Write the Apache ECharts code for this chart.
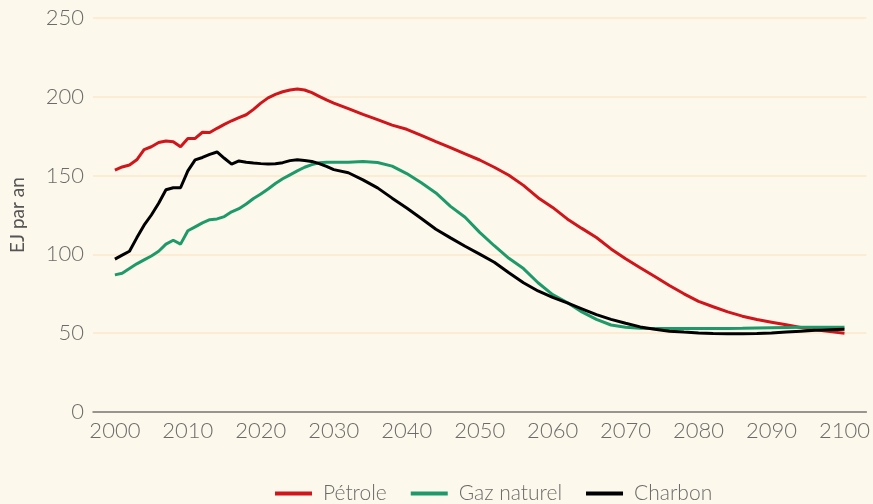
<!DOCTYPE html>
<html>
<head>
<meta charset="utf-8">
<script src="https://cdn.jsdelivr.net/npm/echarts@6/dist/echarts.min.js"></script>
<style>
html,body{margin:0;padding:0;background:#fdf8ec;}
#chart{width:873px;height:504px;}
</style>
</head>
<body>
<div id="chart"></div>
<script>
const years = [2000,2001,2002,2003,2004,2005,2006,2007,2008,2009,2010,2011,2012,2013,2014,2015,2016,2017,2018,2019,2020,2021,2022,2023,2024,2025,2026,2027,2028,2029,2030,
  2032,2034,2036,2038,2040,2042,2044,2046,2048,2050,2052,2054,2056,2058,2060,2062,2064,2066,2068,2070,2072,2074,2076,2078,2080,2082,2084,2086,2088,2090,2092,2094,2096,2098,2100];

const petrole = [153.5,155.5,156.7,160,166.5,168.3,171,172,171.5,168.3,173.6,173.6,177.5,177.3,180,182.5,184.8,186.8,188.6,192,196,199.3,201.5,203.2,204.3,205,204.3,202.6,200.3,198,196,
  192.5,188.8,185.5,182,179.4,175.5,171.6,167.8,163.8,159.9,155.3,150.2,143.8,136,129.8,122.5,116.5,110.7,103.5,97.3,91.5,86,80.3,75,70.2,66.8,63.5,60.8,58.7,57,55.3,53.6,52.2,51,49.9];

const gaz = [87,88,91,94,96.5,99,102,106.5,109,106.5,115,117.5,120,122,122.5,124,127,129,132,135.5,138.3,141.5,145,148,150.5,153,155.3,157,158.2,158.5,158.4,
  158.5,158.9,158.3,156,151.3,145.4,139,130.5,123.6,114,105.5,97.5,91,82,74.5,69.5,63.5,58.8,55.2,53.8,53.2,53,53,53,53,53,53,53.1,53.3,53.5,53.6,53.7,53.8,53.8,53.8];

const charbon = [97,99.5,102,110.5,118.5,125,132.5,141,142.3,142.3,153,160,161.5,163.5,165,161,157.3,159.3,158.5,158,157.6,157.3,157.5,158.2,159.5,160,159.6,159,157.6,155.8,153.8,
  151.8,147.3,142.2,135.7,129.4,122.8,116,110.5,105.2,100.2,95,88.3,82,76.8,72.7,69.2,65.5,61.8,58.8,56.3,54,52.5,51.3,50.7,50.2,49.8,49.6,49.6,49.8,50.2,50.8,51.3,51.8,52.2,52.5];

const xTicks = [2000,2010,2020,2030,2040,2050,2060,2070,2080,2090,2100];
const seriesNames = ['Pétrole','Gaz naturel','Charbon'];
const colors = ['#d0151b','#1e9a6a','#000000'];

const pair = arr => years.map((y,i)=>[y,arr[i]]);
const FONT = 'Lato';
const TXT = '#6b6b6b';

const chart = echarts.init(document.getElementById('chart'));
chart.setOption({
  backgroundColor:'#fdf8ec',
  animation:false,
  color: colors,
  grid:{left:93,right:4,top:18,bottom:92},
  legend:{
    bottom:-5,left:270,
    icon:'rect',itemWidth:37,itemHeight:4,itemGap:24,
    textStyle:{fontFamily:FONT,fontSize:21,fontWeight:300,color:TXT,padding:[0,0,0,6]},
    data:seriesNames
  },
  xAxis:{
    type:'value',min:1997,max:2103,
    axisLine:{show:true,lineStyle:{color:'#777',width:1.5}},
    axisTick:{show:false},
    splitLine:{show:false},
    axisLabel:{customValues:xTicks,fontFamily:FONT,fontSize:22,fontWeight:300,color:TXT,margin:8,formatter:v=>String(v)}
  },
  yAxis:{
    type:'value',min:0,max:250,interval:50,
    name:'EJ par an',nameLocation:'middle',nameGap:66,
    nameTextStyle:{fontFamily:FONT,fontSize:19,color:'#555'},
    axisLine:{show:false},axisTick:{show:false},
    splitLine:{lineStyle:{color:'#fbe9cc',width:1.5}},
    axisLabel:{fontFamily:FONT,fontSize:22,fontWeight:300,color:TXT,margin:9}
  },
  series:[
    {name:seriesNames[0],type:'line',data:pair(petrole),showSymbol:false,symbol:'none',lineStyle:{width:3}},
    {name:seriesNames[1],type:'line',data:pair(gaz),showSymbol:false,symbol:'none',lineStyle:{width:3}},
    {name:seriesNames[2],type:'line',data:pair(charbon),showSymbol:false,symbol:'none',lineStyle:{width:3}}
  ]
});
</script>
</body>
</html>
